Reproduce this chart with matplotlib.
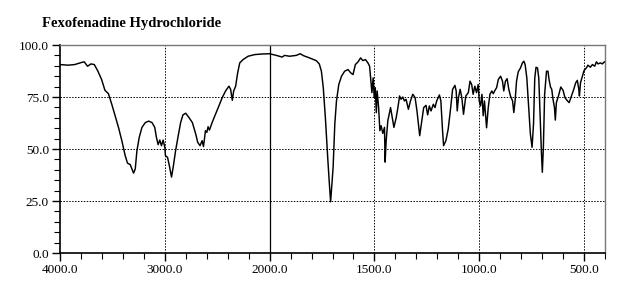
import numpy as np
import matplotlib
matplotlib.use("Agg")
import matplotlib.pyplot as plt
from matplotlib.ticker import FixedLocator, FuncFormatter

# widmo IR: liczba falowa [cm-1] i transmitancja [%]
wn = [4000, 3923, 3859, 3795, 3769, 3737, 3705, 3673, 3641, 3603, 3571, 3538,
      3506, 3474, 3442, 3410, 3378, 3356, 3330, 3298, 3282, 3266, 3244, 3218,
      3186, 3154, 3122, 3096, 3080, 3064, 3048, 3032, 3016, 3000, 2994, 2974,
      2955, 2936, 2920, 2897, 2872, 2849, 2827, 2801, 2769, 2737, 2705, 2686,
      2664, 2644, 2631, 2612, 2599, 2587, 2574, 2548, 2516, 2484, 2452, 2420,
      2388, 2372, 2356, 2343, 2324, 2305, 2285, 2253, 2205, 2141, 2061, 2000,
      1968, 1940, 1929, 1905, 1873, 1854, 1839, 1810, 1791, 1778, 1763, 1753,
      1744, 1734, 1723, 1715, 1709, 1697, 1689, 1681, 1670, 1657, 1642, 1626,
      1613, 1602, 1591, 1578, 1566, 1555, 1543, 1531, 1523, 1517, 1512, 1506,
      1501, 1496, 1491, 1487, 1480, 1474, 1468, 1460, 1452, 1449, 1444, 1436,
      1428, 1423, 1415, 1407, 1396, 1388, 1380, 1373, 1365, 1357, 1349, 1338,
      1328, 1317, 1306, 1297, 1284, 1274, 1265, 1254, 1246, 1238, 1230, 1219,
      1211, 1203, 1190, 1183, 1175, 1170, 1159, 1148, 1138, 1127, 1116, 1110,
      1105, 1099, 1091, 1083, 1075, 1064, 1052, 1044, 1036, 1029, 1021, 1013,
      1005, 1000, 994, 987, 981, 975, 965, 957, 949, 940, 933, 925, 917, 909,
      898, 889, 883, 875, 867, 859, 851, 841, 835, 829, 822, 814, 803, 794,
      787, 781, 773, 765, 756, 748, 741, 735, 729, 722, 716, 710, 703, 699,
      694, 688, 679, 672, 667, 660, 654, 648, 641, 637, 632, 622, 611, 600,
      591, 579, 571, 560, 549, 540, 532, 525, 522, 517, 508, 500, 489, 481,
      470, 460, 449, 441, 433, 422, 413, 403, 400]
trans = [90.6, 90.3, 90.6, 91.6, 91.9, 89.8, 90.9, 90.6, 87.7, 83.4, 78.2, 76.6,
         71.5, 65.9, 60.4, 54.0, 46.8, 43.2, 42.5, 38.4, 40.4, 49.2, 55.6, 60.4,
         62.7, 63.4, 62.7, 60.4, 55.6, 52.1, 54.3, 51.6, 54.3, 50.8, 46.8, 46.0,
         41.6, 36.5, 41.3, 49.2, 56.4, 62.7, 66.4, 67.2, 65.1, 62.7, 57.2, 53.2,
         51.6, 54.0, 51.2, 58.8, 58.0, 60.7, 59.1, 62.8, 66.7, 70.7, 74.7, 77.9,
         80.2, 78.7, 73.4, 77.9, 80.2, 86.6, 91.4, 93.0, 94.6, 95.4, 95.7, 95.8,
         95.0, 94.2, 95.0, 94.6, 95.0, 95.8, 94.9, 93.8, 93.0, 92.5, 90.9, 87.4,
         79.5, 65.1, 46.1, 33.3, 24.6, 41.3, 62.0, 73.1, 81.0, 85.0, 87.4, 88.2,
         86.6, 85.8, 90.6, 91.9, 93.8, 92.5, 93.0, 91.4, 89.8, 82.6, 77.1, 84.2,
         74.7, 79.5, 67.5, 77.9, 69.9, 58.8, 61.2, 57.5, 60.4, 43.7, 54.0, 63.6,
         67.5, 69.9, 65.1, 60.4, 65.1, 69.9, 75.5, 73.9, 75.0, 73.1, 73.9, 69.1,
         73.1, 76.3, 74.7, 68.3, 56.4, 63.6, 69.9, 71.0, 66.4, 70.7, 68.3, 71.5,
         69.9, 73.1, 76.0, 73.1, 58.8, 51.6, 54.0, 59.6, 68.3, 78.7, 80.6, 77.9,
         68.3, 74.7, 78.7, 74.7, 66.7, 75.5, 77.1, 82.6, 81.0, 76.3, 80.2, 77.1,
         81.0, 73.1, 70.7, 76.3, 66.0, 73.1, 60.2, 69.9, 76.3, 77.9, 76.6, 78.2,
         79.5, 83.4, 85.0, 82.6, 77.9, 82.6, 83.8, 78.7, 75.5, 73.1, 67.5, 73.1,
         82.6, 87.1, 89.0, 91.4, 92.2, 90.6, 84.2, 71.5, 57.2, 50.8, 62.0, 84.2,
         89.3, 89.0, 84.2, 66.7, 47.6, 38.8, 50.8, 76.3, 87.4, 87.4, 83.4, 79.8,
         78.7, 73.9, 69.9, 63.9, 72.3, 75.5, 79.8, 78.2, 74.7, 73.1, 72.3, 75.5,
         78.7, 81.8, 83.0, 78.7, 75.5, 81.8, 85.0, 87.7, 89.0, 90.3, 89.3, 90.6,
         89.8, 91.9, 90.9, 91.4, 90.9, 91.9, 91.9]

x_major = [4000, 3000, 2000, 1500, 1000, 500]
x_minor = list(range(3800, 2000, -200)) + list(range(1900, 399, -100))
y_major = [0, 25, 50, 75, 100]
y_minor = list(range(5, 100, 5))


# skala z przelomem na 2000 cm-1 (ponizej dwa razy rozciagnieta)
def fwd(x):
    x = np.asarray(x, dtype=float)
    return np.where(x >= 2000, x, 2 * x - 2000)


def inv(y):
    y = np.asarray(y, dtype=float)
    return np.where(y >= 2000, y, (y + 2000) / 2)


plt.rcParams['font.family'] = ['Liberation Serif', 'DejaVu Serif']

fig = plt.figure(figsize=(6.24, 3.0), dpi=100)
ax = fig.add_axes([60 / 624, 1 - 253 / 300, 545 / 624, 208 / 300])

ax.set_xscale('function', functions=(fwd, inv))
ax.plot(wn, trans, color='black', lw=1.05, zorder=3)
ax.set_xlim(4000, 400)
ax.set_ylim(0, 100)

# siatka
for v in [3000, 1500, 1000, 500]:
    ax.axvline(v, color='black', lw=0.7, ls=(0, (1.5, 1.5)), zorder=1)
ax.axvline(2000, color='black', lw=0.9, zorder=1)
for v in [25, 50, 75]:
    ax.axhline(v, color='black', lw=0.7, ls=(0, (1.5, 1.5)), zorder=1)

ax.xaxis.set_major_locator(FixedLocator(x_major))
ax.xaxis.set_minor_locator(FixedLocator(x_minor))
ax.xaxis.set_major_formatter(FuncFormatter(lambda v, p: f"{v:.1f}"))
ax.xaxis.set_minor_formatter(FuncFormatter(lambda v, p: ""))
ax.yaxis.set_major_locator(FixedLocator(y_major))
ax.yaxis.set_minor_locator(FixedLocator(y_minor))
ax.yaxis.set_major_formatter(FuncFormatter(lambda v, p: f"{v:.1f}"))

ax.tick_params(which='major', direction='out', length=6, width=1.0,
               labelsize=9.5, pad=2)
ax.tick_params(which='minor', direction='out', length=4, width=0.8)

for s in ['left', 'bottom']:
    ax.spines[s].set_linewidth(1.2)
for s in ['top', 'right']:
    ax.spines[s].set_linewidth(1.0)
    ax.spines[s].set_color('#777777')

fig.text(42 / 624, 1 - 24 / 300, "Fexofenadine Hydrochloride",
         fontsize=10.5, fontweight='bold', va='center', ha='left')

fig.savefig("out.png", dpi=100)
